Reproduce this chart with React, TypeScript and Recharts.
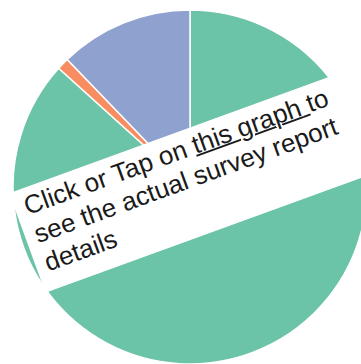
import React from "react";
import { PieChart, Pie, Cell } from "recharts";

const categories = ["Green", "Orange", "Blue"];
const values = [86.7, 1.1, 12.2];
const colors = ["#6cc4a8", "#f88d62", "#8ea1cf"];
const bannerLines = ["see the actual survey report", "details"];

const data = categories.map((name, i) => ({ name, value: values[i] }));

export default function App() {
  return (
    <div
      style={{
        position: "absolute",
        left: 0,
        top: 0,
        width: 361,
        height: 364,
        overflow: "hidden",
        background: "#fff",
      }}
    >
      <PieChart width={361} height={364} margin={{ top: 0, right: 0, bottom: 0, left: 0 }}>
        <Pie
          data={data}
          dataKey="value"
          nameKey="name"
          cx={190}
          cy={187}
          outerRadius={177}
          startAngle={90}
          endAngle={-270}
          stroke="#fff"
          strokeWidth={1.5}
          isAnimationActive={false}
        >
          {data.map((d, i) => (
            <Cell key={d.name} fill={colors[i]} />
          ))}
        </Pie>
      </PieChart>
      <div
        style={{
          position: "absolute",
          left: 18,
          top: 131,
          width: 440,
          height: 106,
          background: "#fff",
          transformOrigin: "172px 56px",
          transform: "rotate(-20deg)",
          boxSizing: "border-box",
          paddingLeft: 10,
          paddingTop: 3,
          fontFamily: '"Liberation Sans", Arial, Helvetica, sans-serif',
          fontSize: 26,
          lineHeight: "30px",
          color: "#1a1a1a",
          whiteSpace: "nowrap",
        }}
      >
        <div>
          Click or Tap on{" "}
          <span style={{ textDecoration: "underline", textDecorationThickness: 1.5 }}>
            this graph{"\u00a0"}
          </span>
          to
        </div>
        {bannerLines.map((l) => (
          <div key={l}>{l}</div>
        ))}
      </div>
    </div>
  );
}
